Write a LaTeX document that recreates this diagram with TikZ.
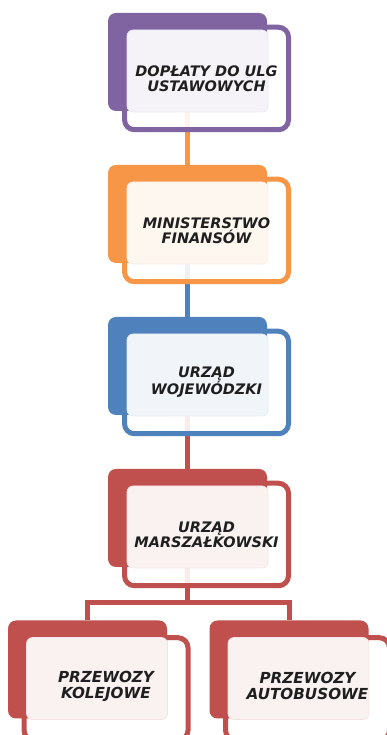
\documentclass[tikz,border=0pt]{standalone}
\usepackage{fontspec}
\setmainfont{DejaVu Sans}
\usetikzlibrary{positioning,backgrounds}
\definecolor{accpurple}{HTML}{8064A2}
\definecolor{accorange}{HTML}{F79646}
\definecolor{accblue}{HTML}{4F81BD}
\definecolor{accred}{HTML}{C0504D}
\begin{document}
\begin{tikzpicture}[x=1pt,y=1pt]
   \tikzstyle{framebox}=[draw=#1, line width=5pt, rounded corners=10pt, fill=white, fill opacity=0.9, minimum width=164pt, minimum height=102.5pt, inner sep=0pt]
   \tikzstyle{backbox}=[fill=#1, rounded corners=8pt, minimum width=159pt, minimum height=98pt, inner sep=0pt]
   \tikzstyle{facebox}=[fill=#1!8!white, draw=#1!16!white, line width=0.6pt, rounded corners=6pt, minimum width=141pt, minimum height=82pt, inner sep=0pt]
   \tikzstyle{boxtext}=[font=\bfseries\itshape\fontsize{14.5}{14.8}\selectfont, align=center, text=black!88]
   \tikzstyle{leaftext}=[font=\bfseries\itshape\fontsize{15.2}{16.2}\selectfont, align=center, text=black!88]
   \tikzstyle{link}=[draw=#1, line width=5pt]

\useasboundingbox (0,0) rectangle (387,735);
\clip (0,0) rectangle (387,735);

% outer frames
\node[framebox=accpurple] (f1) at (206.5,656.5) {};
\node[framebox=accorange] (f2) at (206.5,504.5) {};
\node[framebox=accblue]   (f3) at (206.5,352.5) {};
\node[framebox=accred]    (f4) at (206.5,200.5) {};
\node[framebox=accred]    (f5) at (106,46) {};
\node[framebox=accred]    (f6) at (307.5,46) {};

% filled back boxes
\node[backbox=accpurple] (b1) at ([shift={(-19,16.5)}]f1.center) {};
\node[backbox=accorange] (b2) at ([shift={(-19,16.5)}]f2.center) {};
\node[backbox=accblue]   (b3) at ([shift={(-19,16.5)}]f3.center) {};
\node[backbox=accred]    (b4) at ([shift={(-19,16.5)}]f4.center) {};
\node[backbox=accred]    (b5) at ([shift={(-18.5,19.5)}]f5.center) {};
\node[backbox=accred]    (b6) at ([shift={(-18.5,19.5)}]f6.center) {};

% light faces
\node[facebox=accpurple] (c1) at ([shift={(-9,7.5)}]f1.center) {};
\node[facebox=accorange] (c2) at ([shift={(-9,7.5)}]f2.center) {};
\node[facebox=accblue]   (c3) at ([shift={(-9,7.5)}]f3.center) {};
\node[facebox=accred]    (c4) at ([shift={(-9,7.5)}]f4.center) {};
\node[facebox=accred]    (c5) at ([shift={(-9,10.5)}]f5.center) {};
\node[facebox=accred]    (c6) at ([shift={(-9,10.5)}]f6.center) {};

% labels
\node[boxtext] (t1) at (f1) {DOPŁATY DO ULG\\USTAWOWYCH};
\node[boxtext] (t2) at (f2) {MINISTERSTWO\\FINANSÓW};
\node[boxtext] (t3) at (f3) {URZĄD\\WOJEWÓDZKI};
\node[boxtext] (t4) at (f4) {URZĄD\\MARSZAŁKOWSKI};
\node[leaftext] (t5) at ([yshift=3pt]f5.center) {PRZEWOZY\\KOLEJOWE};
\node[leaftext] (t6) at ([yshift=3pt]f6.center) {PRZEWOZY\\AUTOBUSOWE};

\begin{scope}[on background layer]
   \draw[link=accorange] (c1.south -| b2.north) -- (b2.north);
   \draw[link=accblue]   (c2.south -| b3.north) -- (b3.north);
   \draw[link=accred]    (c3.south -| b4.north) -- (b4.north);
   \coordinate (split) at ([yshift=-35pt]b4.south);
   \draw[link=accred] (c4.south -| b4.north) -- (split) -| (b5.north);
   \draw[link=accred] (split) -| (b6.north);
\end{scope}

\end{tikzpicture}
\end{document}
